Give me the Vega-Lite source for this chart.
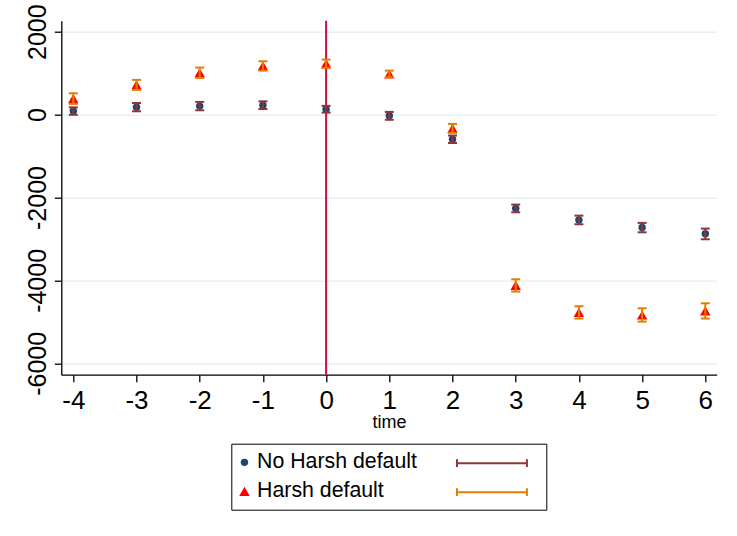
{
  "$schema": "https://vega.github.io/schema/vega-lite/v6.json",
  "autosize": {"type": "none"},
  "padding": {"left": 61.3, "top": 20.7, "right": 20.3, "bottom": 161.3},
  "width": 655.4,
  "height": 354,
  "background": "white",
  "config": {
    "view": {"stroke": null},
    "font": "Liberation Sans",
    "axis": {
      "labelFont": "Liberation Sans",
      "titleFont": "Liberation Sans",
      "labelColor": "black",
      "titleColor": "black",
      "domainColor": "black",
      "tickColor": "black",
      "domainWidth": 1.3,
      "tickWidth": 1.3
    },
    "legend": {
      "labelFont": "Liberation Sans",
      "labelColor": "black",
      "layout": {"bottom": {"anchor": "middle"}}
    }
  },
  "datasets": {
    "est": [
      {"time": -4, "series": "No Harsh default", "est": 85, "lo": -5, "hi": 175},
      {"time": -3, "series": "No Harsh default", "est": 180, "lo": 80, "hi": 280},
      {"time": -2, "series": "No Harsh default", "est": 205, "lo": 104, "hi": 306},
      {"time": -1, "series": "No Harsh default", "est": 225, "lo": 135, "hi": 320},
      {"time": 0, "series": "No Harsh default", "est": 130, "lo": 48, "hi": 210},
      {"time": 1, "series": "No Harsh default", "est": -30, "lo": -125, "hi": 65},
      {"time": 2, "series": "No Harsh default", "est": -595, "lo": -685, "hi": -505},
      {"time": 3, "series": "No Harsh default", "est": -2265, "lo": -2357, "hi": -2171},
      {"time": 4, "series": "No Harsh default", "est": -2541, "lo": -2646, "hi": -2437},
      {"time": 5, "series": "No Harsh default", "est": -2725, "lo": -2840, "hi": -2613},
      {"time": 6, "series": "No Harsh default", "est": -2875, "lo": -3008, "hi": -2750},
      {"time": -4, "series": "Harsh default", "est": 386, "lo": 258, "hi": 514},
      {"time": -3, "series": "Harsh default", "est": 716, "lo": 596, "hi": 837},
      {"time": -2, "series": "Harsh default", "est": 1010, "lo": 885, "hi": 1134},
      {"time": -1, "series": "Harsh default", "est": 1175, "lo": 1061, "hi": 1286},
      {"time": 0, "series": "Harsh default", "est": 1230, "lo": 1127, "hi": 1327},
      {"time": 1, "series": "Harsh default", "est": 980, "lo": 900, "hi": 1061},
      {"time": 2, "series": "Harsh default", "est": -333, "lo": -442, "hi": -225},
      {"time": 3, "series": "Harsh default", "est": -4120, "lo": -4270, "hi": -3973},
      {"time": 4, "series": "Harsh default", "est": -4772, "lo": -4921, "hi": -4624},
      {"time": 5, "series": "Harsh default", "est": -4833, "lo": -4994, "hi": -4672},
      {"time": 6, "series": "Harsh default", "est": -4736, "lo": -4921, "hi": -4552}
    ],
    "ref": [{"time": 0}]
  },
  "layer": [
    {
      "data": {"name": "ref"},
      "mark": {"type": "rule", "color": "#c8103c", "strokeWidth": 2},
      "encoding": {
        "x": {
          "field": "time", "type": "quantitative",
          "scale": {"domain": [-4.19, 6.18], "nice": false, "zero": false},
          "axis": {
            "values": [-4, -3, -2, -1, 0, 1, 2, 3, 4, 5, 6],
            "labelExpr": "'' + datum.value",
            "grid": false,
            "labelFontSize": 26,
            "tickSize": 7,
            "labelPadding": 6,
            "labelFlush": false,
            "labelOverlap": false,
            "title": "time",
            "titleFontSize": 18,
            "titleFontWeight": "normal",
            "titlePadding": 0
          }
        }
      }
    },
    {
      "data": {"name": "est"},
      "mark": {"type": "point", "filled": true, "opacity": 1},
      "encoding": {
        "x": {"field": "time", "type": "quantitative"},
        "y": {
          "field": "est", "type": "quantitative",
          "scale": {"domain": [-6275, 2265], "nice": false, "zero": false},
          "axis": {
            "values": [-6000, -4000, -2000, 0, 2000],
            "labelExpr": "'' + datum.value",
            "grid": true,
            "gridColor": "#eaf0f3",
            "gridWidth": 1.5,
            "labelAngle": 270,
            "labelFontSize": 25,
            "tickSize": 7,
            "labelPadding": 4,
            "title": null
          }
        },
        "fill": {
          "field": "series", "type": "nominal",
          "scale": {"domain": ["No Harsh default", "Harsh default"], "range": ["#1a476f", "#ff0000"]},
          "legend": {
            "orient": "bottom", "offset": 12, "direction": "vertical",
            "title": "\u200b", "titleOrient": "right", "titlePadding": 121, "titleFontSize": 10,
            "padding": 8, "strokeColor": "black",
            "symbolOpacity": 1, "symbolStrokeWidth": 0, "symbolOffset": -5.5,
            "labelFontSize": 21.3, "labelOffset": 2, "rowPadding": 7, "labelLimit": 1000
          }
        },
        "shape": {
          "field": "series", "type": "nominal",
          "scale": {"domain": ["No Harsh default", "Harsh default"], "range": ["circle", "triangle-up"]},
          "legend": {
            "orient": "bottom", "offset": 12, "direction": "vertical",
            "title": "\u200b", "titleOrient": "right", "titlePadding": 121, "titleFontSize": 10,
            "padding": 8, "strokeColor": "black",
            "symbolOpacity": 1, "symbolStrokeWidth": 0, "symbolOffset": -5.5,
            "labelFontSize": 21.3, "labelOffset": 2, "rowPadding": 7, "labelLimit": 1000
          }
        },
        "size": {
          "field": "series", "type": "nominal",
          "scale": {"domain": ["No Harsh default", "Harsh default"], "range": [55, 110]},
          "legend": {
            "orient": "bottom", "offset": 12, "direction": "vertical",
            "title": "\u200b", "titleOrient": "right", "titlePadding": 121, "titleFontSize": 10,
            "padding": 8, "strokeColor": "black",
            "symbolOpacity": 1, "symbolStrokeWidth": 0, "symbolOffset": -5.5,
            "labelFontSize": 21.3, "labelOffset": 2, "rowPadding": 7, "labelLimit": 1000
          }
        }
      }
    },
    {
      "data": {"name": "est"},
      "mark": {"type": "rule", "strokeWidth": 2},
      "encoding": {
        "x": {"field": "time", "type": "quantitative"},
        "y": {"field": "lo", "type": "quantitative"},
        "y2": {"field": "hi"},
        "stroke": {
          "field": "series", "type": "nominal",
          "scale": {"domain": ["No Harsh default", "Harsh default"], "range": ["#90353b", "#e37e00"]},
          "legend": {
            "orient": "bottom-left", "offset": -128, "title": null,
            "padding": 0,
            "symbolType": "M48.78,0H55.44M48.78,-0.367V0.367M55.44,-0.367V0.367",
            "symbolSize": 441, "symbolStrokeWidth": 2, "symbolFillColor": "transparent",
            "labelFontSize": 21, "rowPadding": 7, "labelExpr": "''"
          }
        }
      }
    },
    {
      "data": {"name": "est"},
      "mark": {"type": "rule", "strokeWidth": 2, "xOffset": -4.5, "x2Offset": 4.5},
      "encoding": {
        "x": {"field": "time", "type": "quantitative"},
        "x2": {"field": "time"},
        "y": {"field": "lo", "type": "quantitative"},
        "stroke": {"field": "series", "type": "nominal"}
      }
    },
    {
      "data": {"name": "est"},
      "mark": {"type": "rule", "strokeWidth": 2, "xOffset": -4.5, "x2Offset": 4.5},
      "encoding": {
        "x": {"field": "time", "type": "quantitative"},
        "x2": {"field": "time"},
        "y": {"field": "hi", "type": "quantitative"},
        "stroke": {"field": "series", "type": "nominal"}
      }
    }
  ]
}
